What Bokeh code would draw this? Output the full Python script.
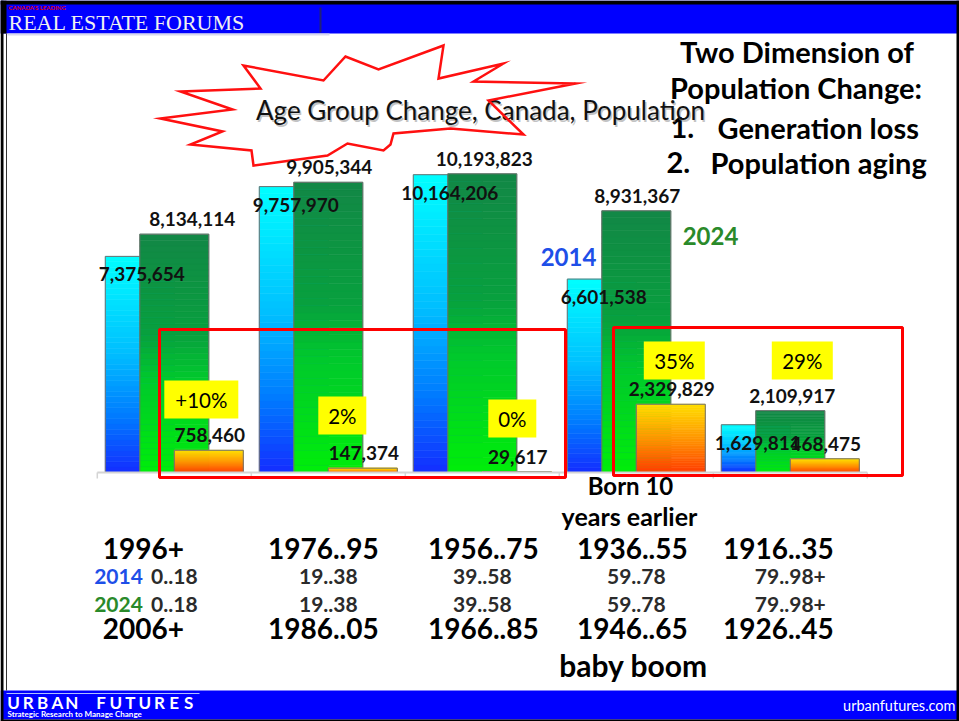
import numpy as np
from bokeh.plotting import figure
from bokeh.models import Range1d, ColumnDataSource
from bokeh.core.properties import value
from bokeh.embed import file_html
from bokeh.resources import INLINE

# ---------------- data ----------------
groups = ["0..18", "19..38", "39..58", "59..78", "79..98+"]
pop_2014 = [7375654, 9757970, 10164206, 6601538, 1629811]
pop_2024 = [8134114, 9905344, 10193823, 8931367, 2109917]
change_2014_2024 = [758460, 147374, 29617, 2329829, 468475]
pct_change = ["+10%", "2%", "0%", "35%", "29%"]
born_2014 = ["1996+", "1976..95", "1956..75", "1936..55", "1916..35"]
born_2024 = ["2006+", "1986..05", "1966..85", "1946..65", "1926..45"]

FONT = "Lato"

# ---------------- layout (page pixel space) ----------------
W, H = 959, 721
X0, X1, Y0, Y1 = 0, 959, 0, 721
BASE_Y = 472                              # baseline of the bars (page px)
PX_PER_M = 29.3                           # px per million people
G0_X, G_W = 173.8, 154.0                  # centre of first group, group pitch
BAR_W = 0.448
OFF = BAR_W / 2

p = figure(width=W, height=H, x_range=Range1d(X0, X1), y_range=Range1d(Y1, Y0),
           output_backend="svg", toolbar_location=None,
           x_axis_location=None, y_axis_location=None, min_border=0,
           outline_line_color=None, background_fill_color="white",
           border_fill_color="white")
p.grid.visible = False
p.extra_y_ranges = {"pop": Range1d(-(Y1 - BASE_Y) / PX_PER_M * 1e6, (BASE_Y - Y0) / PX_PER_M * 1e6)}
p.extra_x_ranges = {"cat": Range1d((X0 - G0_X) / G_W, (X1 - G0_X) / G_W)}

idx = np.arange(len(groups))
MID = dict(text_baseline="middle")

# ---------------- frame & banners ----------------
p.quad(left=[0], right=[959], bottom=[33], top=[0], fill_color="#0000FF", line_color=None)
p.quad(left=[0], right=[959], bottom=[4], top=[0], fill_color="black", line_color=None)
p.quad(left=[0], right=[6], bottom=[33], top=[0], fill_color="black", line_color=None)
p.segment(x0=[320], x1=[320], y0=[7], y1=[32], line_color="#20207A", line_width=2)
p.segment(x0=[7], x1=[329], y0=[34], y1=[34], line_color="#D8D8EE", line_width=2)
p.text(x=[8], y=[6.5], text=["CANADA'S LEADING"], text_font=value(FONT), text_font_style="bold",
       text_font_size="6px", text_color="#E00000", **MID)
p.text(x=[8], y=[22], text=["REAL ESTATE FORUMS"], text_font=value("Liberation Serif"),
       text_font_size="22px", text_color="#F0F0F0", **MID)

p.quad(left=[0], right=[959], bottom=[719], top=[690], fill_color="#0000FF", line_color=None)
p.quad(left=[0], right=[959], bottom=[721], top=[719], fill_color="black", line_color=None)
p.segment(x0=[1.5, 957.5], x1=[1.5, 957.5], y0=[0, 0], y1=[721, 721], line_color="black", line_width=3)
p.segment(x0=[6], x1=[6], y0=[33], y1=[690], line_color="#333333", line_width=1)
p.segment(x0=[6], x1=[199], y0=[693], y1=[693], line_color="#AFC0FF", line_width=1)
uf = "URBAN FUTURES"
p.text(x=[13 + 14.6 * k for k in range(len(uf))], y=[702] * len(uf), text=list(uf),
       text_font=value(FONT), text_font_size="17px", text_font_style="bold",
       text_color="white", text_align="center", **MID)
p.text(x=[7], y=[713.5], text=["Strategic Research to Manage Change"], text_font=value(FONT),
       text_font_size="8px", text_font_style="bold", text_color="white", **MID)
p.text(x=[955], y=[705], text=["urbanfutures.com"], text_font=value(FONT),
       text_font_size="14.5px", text_color="white", text_align="right", **MID)

# ---------------- title block ----------------
tstyle = dict(text_font=value(FONT), text_font_style="bold", text_font_size="29px",
              text_color="black", **MID)
p.text(x=[796.5], y=[51], text=["Two Dimension of"], text_align="center", **tstyle)
p.text(x=[795.5], y=[87], text=["Population Change:"], text_align="center", **tstyle)
p.text(x=[670, 666], y=[127, 162], text=["1.", "2."], **tstyle)
p.text(x=[717, 710], y=[127, 162], text=["Generation loss", "Population aging"], **tstyle)

# ---------------- starburst with chart title ----------------
p.text(x=[481.5], y=[111], text=["Age Group Change, Canada, Population"], text_font=value(FONT),
       text_font_size="26px", text_color="#9a9a9a", text_alpha=0.6, text_align="center", **MID)
p.text(x=[480], y=[109.5], text=["Age Group Change, Canada, Population"], text_font=value(FONT),
       text_font_size="26px", text_color="#111111", text_align="center", **MID)
star_x = [160, 232, 180, 260, 243, 323, 345, 378, 443, 438, 503, 473, 575, 488, 523, 450, 393, 390, 383, 347, 327, 253, 251, 190, 222]
star_y = [118, 109, 91, 88, 65, 80, 56, 69, 45, 78, 63, 81, 83, 100, 134, 128, 133, 144, 150, 143, 155, 165, 150, 144, 131]
p.patch(star_x, star_y, fill_color=None, line_color="#FF1010", line_width=2.5, line_join="miter")

# ---------------- bars (gradient fill via slices) ----------------
def lerp_color(stops, t):
    for (t0, c0), (t1, c1) in zip(stops[:-1], stops[1:]):
        if t0 <= t <= t1:
            f = (t - t0) / (t1 - t0) if t1 > t0 else 0
            c = [int(round(a + (b - a) * f)) for a, b in zip(c0, c1)]
            return "#%02x%02x%02x" % tuple(c)
    c = stops[-1][1]
    return "#%02x%02x%02x" % tuple(c)

def gradient_bar(values, xoff, stops, n=40):
    L, R, B, T, C = [], [], [], [], []
    for i, v in zip(idx, values):
        for k in range(n):
            L.append(i + xoff - OFF)
            R.append(i + xoff + OFF)
            B.append(v * k / n)
            T.append(v * (k + 1) / n)
            C.append(lerp_color(stops, 1 - (k + 0.5) / n))   # t = 0 at top
    src = ColumnDataSource(dict(l=L, r=R, b=B, t=T, c=C))
    p.quad(left="l", right="r", bottom="b", top="t", fill_color="c", line_color="c",
           line_width=0.6, source=src, x_range_name="cat", y_range_name="pop")
    p.quad(left=list(idx + xoff - OFF), right=list(idx + xoff + OFF), bottom=0, top=list(values),
           fill_color=None, line_color="#707070", line_width=1,
           x_range_name="cat", y_range_name="pop")

cyan_stops = [(0, (0, 255, 255)), (0.45, (0, 190, 255)), (0.75, (0, 120, 255)), (1, (20, 45, 255))]
green_stops = [(0, (18, 135, 70)), (0.42, (8, 160, 62)), (0.6, (0, 200, 45)), (1, (0, 238, 10))]
orange_stops = [(0, (255, 222, 0)), (0.5, (255, 150, 0)), (1, (255, 60, 0))]

gradient_bar(pop_2014, -OFF, cyan_stops)
gradient_bar(pop_2024, 0.0, green_stops)
gradient_bar(change_2014_2024, OFF, orange_stops)

# category axis baseline + ticks
p.segment(x0=[-0.5], x1=[len(groups) - 0.5], y0=[0], y1=[0], line_color="#D4D4D4", line_width=2,
          x_range_name="cat", y_range_name="pop")
p.segment(x0=list(np.arange(len(groups) + 1) - 0.5), x1=list(np.arange(len(groups) + 1) - 0.5),
          y0=BASE_Y, y1=BASE_Y + 6, line_color="#D4D4D4", line_width=1.5, x_range_name="cat")

# ---------------- value labels ----------------
vstyle = dict(text_font=value(FONT), text_font_style="bold", text_font_size="19px",
              text_color="#111111", text_align="center", text_baseline="middle",
              x_range_name="cat", y_range_name="pop")
lab_dx_2024 = [18, 1, 2, 1, 2]
p.text(x=list(idx - OFF), y=pop_2014, text=[f"{v:,}" for v in pop_2014],
       x_offset=2, y_offset=18, **vstyle)
p.text(x=list(idx), y=pop_2024, text=[f"{v:,}" for v in pop_2024],
       x_offset=lab_dx_2024, y_offset=-15, **vstyle)
p.text(x=list(idx + OFF), y=change_2014_2024, text=[f"{v:,}" for v in change_2014_2024],
       x_offset=1, y_offset=-15, **vstyle)

# series legend
p.text(x=[568], y=[256.5], text=["2014"], text_font=value(FONT), text_font_style="bold",
       text_font_size="24px", text_color="#1E4FE8", text_align="center", **MID)
p.text(x=[710], y=[235], text=["2024"], text_font=value(FONT), text_font_style="bold",
       text_font_size="24px", text_color="#2A8A2A", text_align="center", **MID)

# ---------------- percentage call-outs ----------------
pct_dx = [27, 14, 30, 38, 12]          # px shift from group centre
pct_cy = [399, 415, 418, 360, 360]     # page px
pct_src = ColumnDataSource(dict(
    x=list(idx + np.array(pct_dx) / G_W), y=pct_cy, t=pct_change,
    w=[22 + 13 * len(s) for s in pct_change]))
p.rect(x="x", y="y", width="w", height=38, width_units="screen", height_units="screen",
       fill_color="#FFFF00", line_color=None, source=pct_src, x_range_name="cat")
p.text(x="x", y="y", text="t", source=pct_src, text_font=value(FONT), text_font_size="20.5px",
       text_color="black", text_align="center", text_baseline="middle", x_range_name="cat")

# red highlight frames
p.quad(left=[159, 613], right=[565, 902], top=[329, 327], bottom=[477, 475],
       fill_color=None, line_color="#FF0000", line_width=3)

# ---------------- category labels under the chart ----------------
big = dict(text_font=value(FONT), text_font_style="bold", text_font_size="28px",
           text_color="black", text_align="center", text_baseline="middle", x_range_name="cat")
born_dx = [-31, -5, 1, -4, -12]
src_b = ColumnDataSource(dict(x=list(idx), dx=born_dx, b14=born_2014, b24=born_2024, g=groups))
p.text(x="x", y=547.5, text="b14", x_offset="dx", source=src_b, **big)
p.text(x="x", y=628, text="b24", x_offset="dx", source=src_b, **big)
small = dict(text_font=value(FONT), text_font_style="bold", text_font_size="21px",
             text_color="#2b2b2b", text_align="center", text_baseline="middle", x_range_name="cat")
p.text(x="x", y=576, text="g", source=src_b, **small)
p.text(x="x", y=604, text="g", source=src_b, **small)
p.text(x=[118], y=[576], text=["2014"], text_font=value(FONT), text_font_style="bold",
       text_font_size="21px", text_color="#1E4FE8", text_align="center", **MID)
p.text(x=[118], y=[604], text=["2024"], text_font=value(FONT), text_font_style="bold",
       text_font_size="21px", text_color="#2A8A2A", text_align="center", **MID)

note = dict(text_font=value(FONT), text_font_style="bold", text_color="black",
            text_align="center", text_baseline="middle")
p.text(x=[630], y=[485], text=["Born 10"], text_font_size="24px", **note)
p.text(x=[629], y=[515], text=["years earlier"], text_font_size="25px", **note)
p.text(x=[633], y=[664], text=["baby boom"], text_font_size="30px", **note)

open("out.html", "w").write(file_html(p, INLINE))
